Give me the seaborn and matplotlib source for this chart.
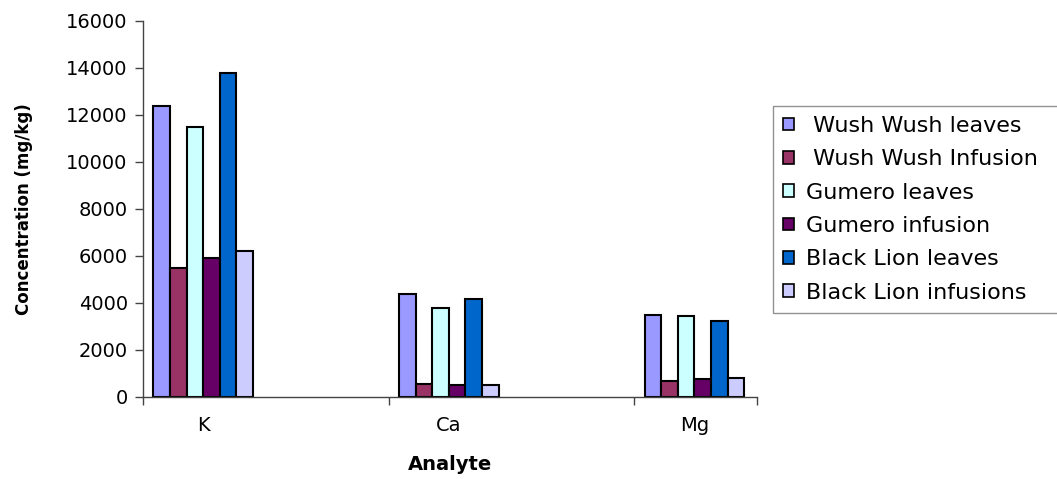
import matplotlib
matplotlib.use("Agg")
import matplotlib.pyplot as plt
import seaborn as sns
import pandas as pd
import numpy as np

analytes = ["K", "Ca", "Mg"]
samples = [" Wush Wush leaves", " Wush Wush Infusion", "Gumero leaves",
           "Gumero infusion", "Black Lion leaves", "Black Lion infusions"]
wush_leaves = [12400, 4400, 3500]
wush_infusion = [5500, 550, 700]
gumero_leaves = [11500, 3800, 3450]
gumero_infusion = [5900, 500, 750]
black_lion_leaves = [13800, 4150, 3250]
black_lion_infusions = [6200, 500, 820]
colors = ["#9999FF", "#993366", "#CCFFFF", "#660066", "#0066CC", "#CCCCFF"]

series = [wush_leaves, wush_infusion, gumero_leaves,
          gumero_infusion, black_lion_leaves, black_lion_infusions]
rows = []
for name, vals in zip(samples, series):
    for a, v in zip(analytes, vals):
        rows.append({"Analyte": a, "Sample": name, "Concentration": v})
df = pd.DataFrame(rows)

sns.set_style("white")
plt.rcParams["font.family"] = ["DejaVu Sans"]
plt.rcParams["text.color"] = "black"
plt.rcParams["axes.labelcolor"] = "black"
plt.rcParams["xtick.color"] = "black"
plt.rcParams["ytick.color"] = "black"

fig = plt.figure(figsize=(10.57, 4.79), dpi=100)
ax = fig.add_axes([0.1353, 0.1712, 0.7162 - 0.1353, 0.9562 - 0.1712])

sns.barplot(data=df, x="Analyte", y="Concentration", hue="Sample",
            hue_order=samples, order=analytes, palette=colors, saturation=1,
            width=0.405, edgecolor="black", linewidth=1.5, ax=ax,
            legend=True)

ax.set_xlim(-0.245, 2.255)
ax.set_ylim(0, 16000)
ax.set_yticks(np.arange(0, 16001, 2000))
ax.tick_params(axis="y", labelsize=14, length=6, width=1, direction="out",
               left=True, color="#444444", pad=5)
ax.set_xticks([0, 1, 2])
ax.tick_params(axis="x", which="major", labelsize=14, length=0, pad=14)
ax.set_xticks([-0.245, 0.755, 1.755, 2.255], minor=True)
ax.tick_params(axis="x", which="minor", length=6, width=1, direction="out",
               bottom=True, color="#444444")

for s in ["top", "right"]:
    ax.spines[s].set_visible(False)
for s in ["left", "bottom"]:
    ax.spines[s].set_color("#444444")
    ax.spines[s].set_linewidth(1)

ax.set_ylabel("Concentration (mg/kg)", fontsize=12, fontweight="bold", labelpad=24)
ax.set_xlabel("Analyte", fontsize=14, fontweight="bold", labelpad=14)

handles, labels = ax.get_legend_handles_labels()
leg = ax.legend(handles, labels, loc="upper left", mode="expand",
                bbox_to_anchor=(773 / 1057, 0, 0.3, 1 - 106 / 479),
                bbox_transform=fig.transFigure, frameon=True, fancybox=False,
                fontsize=16, handlelength=0.5, handleheight=0.5,
                handletextpad=0.55, labelspacing=0.6, borderpad=0.45,
                borderaxespad=0)
leg.get_frame().set_edgecolor("#777777")
leg.get_frame().set_linewidth(1)
for h in leg.legend_handles:
    h.set_edgecolor("black")
    h.set_linewidth(1.2)

fig.savefig("out.png", dpi=100)
